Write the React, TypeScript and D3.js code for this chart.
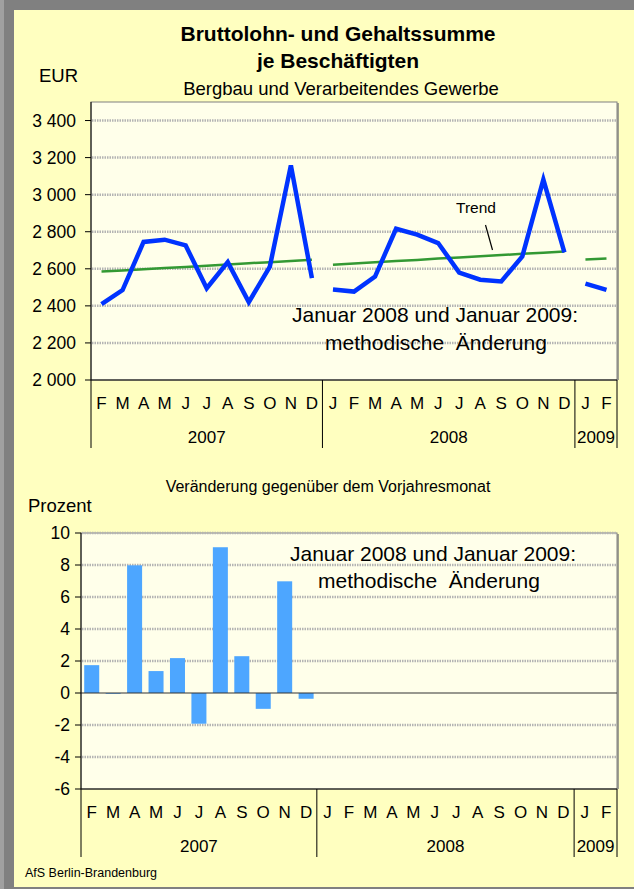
import * as d3 from "d3";

// Monatsachse (Feb 2007 bis Feb 2009)
const months = ["F","M","A","M","J","J","A","S","O","N","D","J","F","M","A","M","J","J","A","S","O","N","D","J","F"];
const yearLabels = ["2007", "2008", "2009"];
const yearMonthCounts = [11, 12, 2];

// Bruttolohn- und Gehaltssumme je Beschäftigten, EUR
const wage = [2410, 2485, 2745, 2757, 2726, 2495, 2636, 2420, 2612, 3158, 2550,
  2488, 2477, 2558, 2816, 2784, 2739, 2580, 2541, 2532, 2667, 3081, 2688,
  2520, 2486];
// Trend
const trend = [2585, 2591, 2598, 2604, 2610, 2617, 2623, 2630, 2636, 2642, 2649,
  2622, 2629, 2635, 2642, 2648, 2655, 2661, 2668, 2674, 2681, 2687, 2694,
  2650, 2656];
// Veränderung gegenüber dem Vorjahresmonat, Prozent
const change = [1.74, -0.05, 7.98, 1.37, 2.18, -1.92, 9.11, 2.3, -0.99, 6.98, -0.36];

const eurTicks = [2000, 2200, 2400, 2600, 2800, 3000, 3200, 3400];
const pctTicks = [-6, -4, -2, 0, 2, 4, 6, 8, 10];

const W = 634;
const H = 889;
const font = "'Liberation Sans', Arial, sans-serif";
const locale = d3.formatLocale({ decimal: ",", thousands: "\u00a0", grouping: [3], currency: ["", " €"] });
const fmt = locale.format(",d");

// year index of each month
const yearOf: number[] = [];
yearMonthCounts.forEach((c, y) => { for (let k = 0; k < c; k++) yearOf.push(y); });

function Grid({ x0, x1, y }: { x0: number; x1: number; y: number }) {
  return <line x1={x0} x2={x1} y1={y} y2={y} stroke="#b4b4b4" strokeWidth={2.5} strokeDasharray="1.5 1" />;
}

function MonthAxis({ x, top }: { x: d3.ScaleBand<number>; top: number }) {
  const [r0, r1] = x.range();
  let acc = 0;
  const seps = [r0];
  const centers: number[] = [];
  yearMonthCounts.forEach((c) => {
    const a = x(acc)!;
    acc += c;
    const b = acc < months.length ? x(acc)! : r1;
    seps.push(b);
    centers.push((a + b) / 2);
  });
  return (
    <g fontFamily={font} fill="#000">
      {seps.map((s, i) => (
        <line key={i} x1={s} x2={s} y1={top} y2={top + 68} stroke="#000" strokeWidth={1} />
      ))}
      {months.map((m, i) => (
        <text key={i} x={x(i)! + x.bandwidth() / 2} y={top + 29} fontSize={17} textAnchor="middle">{m}</text>
      ))}
      {yearLabels.map((l, i) => (
        <text key={l} x={centers[i]} y={top + 63} fontSize={17} textAnchor="middle">{l}</text>
      ))}
    </g>
  );
}

function LineChart() {
  const left = 91, right = 617, top = 102, bottom = 380;
  const x = d3.scaleBand<number>().domain(d3.range(months.length)).range([left, right]).padding(0);
  const y = d3.scaleLinear().domain([2000, 3500]).range([bottom, top]);
  const cx = (i: number) => x(i)! + x.bandwidth() / 2;

  const segs = (vals: number[]) =>
    yearLabels.map((_, yi) => vals.map((v, i) => ({ i, v })).filter((d) => yearOf[d.i] === yi));
  const line = d3.line<{ i: number; v: number }>().x((d) => cx(d.i)).y((d) => y(d.v));

  return (
    <g>
      <rect x={left} y={top} width={right - left} height={bottom - top} fill="#ffffea" stroke="#808080" strokeWidth={1} />
      <line x1={right + 1} x2={right + 1} y1={top + 1} y2={bottom} stroke="#808080" strokeWidth={1.5} />
      {eurTicks.filter((t) => t > 2000).map((t) => <Grid key={t} x0={left + 1} x1={right} y={y(t)} />)}
      {segs(trend).map((s, k) => (
        <path key={"t" + k} d={line(s)!} fill="none" stroke="#339933" strokeWidth={2.5} />
      ))}
      {segs(wage).map((s, k) => (
        <path key={"w" + k} d={line(s)!} fill="none" stroke="#0033ff" strokeWidth={4.5} strokeLinejoin="miter" />
      ))}
      <line x1={left} x2={left} y1={top} y2={bottom} stroke="#000" />
      <line x1={left} x2={right} y1={bottom} y2={bottom} stroke="#000" />
      {eurTicks.map((t) => (
        <g key={t}>
          <line x1={left - 6} x2={left} y1={y(t)} y2={y(t)} stroke="#000" />
          <text x={left - 15} y={y(t) + 6} fontFamily={font} fontSize={17.5} textAnchor="end">{fmt(t)}</text>
        </g>
      ))}
      <text x={476} y={213} fontFamily={font} fontSize={15.5} textAnchor="middle">Trend</text>
      <line x1={485.5} y1={225} x2={492.5} y2={250} stroke="#000" strokeWidth={1.2} />
      <text x={435} y={322} fontFamily={font} fontSize={21} textAnchor="middle">Januar 2008 und Januar 2009:</text>
      <text x={436} y={350} fontFamily={font} fontSize={21} textAnchor="middle" style={{ whiteSpace: "pre" }}>methodische  Änderung</text>
      <MonthAxis x={x} top={bottom} />
    </g>
  );
}

function BarChart() {
  const left = 81, right = 617, top = 533, bottom = 789;
  const x = d3.scaleBand<number>().domain(d3.range(months.length)).range([left, right]).padding(0);
  const y = d3.scaleLinear().domain([-6, 10]).range([bottom, top]);
  const bw = x.bandwidth() * 0.7;

  return (
    <g>
      <rect x={left} y={top} width={right - left} height={bottom - top} fill="#ffffea" stroke="#808080" strokeWidth={1} />
      <line x1={right + 1} x2={right + 1} y1={top + 1} y2={bottom} stroke="#808080" strokeWidth={1.5} />
      {pctTicks.filter((t) => t !== 0 && t !== -6).map((t) => <Grid key={t} x0={left + 1} x1={right} y={y(t)} />)}
      {change.map((v, i) => (
        <rect key={i} x={x(i)! + (x.bandwidth() - bw) / 2} width={bw}
          y={y(Math.max(0, v))} height={Math.abs(y(v) - y(0))} fill="#4da6ff" />
      ))}
      <line x1={left} x2={right} y1={y(0)} y2={y(0)} stroke="#333" strokeWidth={1.2} />
      <line x1={left} x2={left} y1={top} y2={bottom} stroke="#000" />
      <line x1={left} x2={right} y1={bottom} y2={bottom} stroke="#000" />
      {pctTicks.map((t) => (
        <g key={t}>
          <line x1={left - 6} x2={left} y1={y(t)} y2={y(t)} stroke="#000" />
          <text x={left - 11} y={y(t) + 6} fontFamily={font} fontSize={17.5} textAnchor="end">{t}</text>
        </g>
      ))}
      <text x={433} y={561} fontFamily={font} fontSize={21} textAnchor="middle">Januar 2008 und Januar 2009:</text>
      <text x={429} y={588} fontFamily={font} fontSize={21} textAnchor="middle" style={{ whiteSpace: "pre" }}>methodische  Änderung</text>
      <MonthAxis x={x} top={bottom} />
    </g>
  );
}

export default function App() {
  return (
    <svg width={W} height={H} style={{ position: "absolute", left: 0, top: 0 }}>
      <rect x={0} y={0} width={W} height={H} fill="#808080" />
      <rect x={0} y={0} width={4} height={H} fill="#a0a0a0" />
      <rect x={14} y={10} width={W - 14} height={H - 12} fill="#ffffc0" />
      <g fontFamily={font} fill="#000">
        <text x={338} y={41} fontSize={21} fontWeight="bold" textAnchor="middle">Bruttolohn- und Gehaltssumme</text>
        <text x={338} y={68} fontSize={21} fontWeight="bold" textAnchor="middle">je Beschäftigten</text>
        <text x={341} y={95} fontSize={18.5} textAnchor="middle">Bergbau und Verarbeitendes Gewerbe</text>
        <text x={39} y={82} fontSize={18.5}>EUR</text>
        <text x={328} y={492} fontSize={16} textAnchor="middle">Veränderung gegenüber dem Vorjahresmonat</text>
        <text x={28} y={512} fontSize={18.5}>Prozent</text>
        <text x={25} y={877} fontSize={12.5}>AfS Berlin-Brandenburg</text>
      </g>
      <LineChart />
      <BarChart />
    </svg>
  );
}
